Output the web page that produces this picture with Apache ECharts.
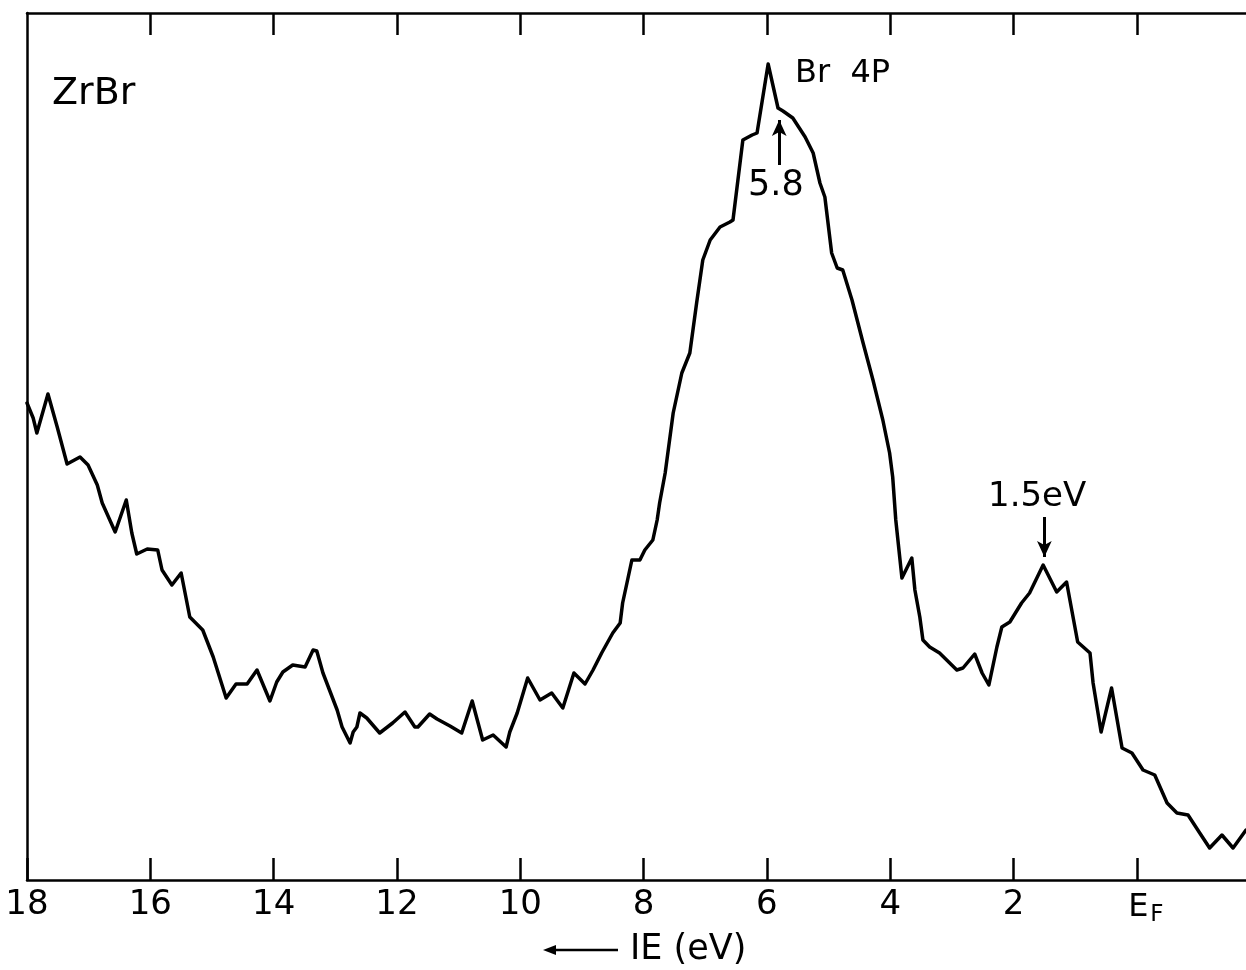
<!DOCTYPE html>
<html>
<head>
<meta charset="utf-8">
<script src="https://cdn.jsdelivr.net/npm/echarts@6/dist/echarts.min.js"></script>
<style>
  html, body { margin: 0; padding: 0; background: #fff; }
  #chart { width: 1246px; height: 970px; }
</style>
</head>
<body>
<div id="chart"></div>
<script>
// Binding energy (eV, relative to E_F)
const energies = [
  18.00, 17.90, 17.84, 17.66, 17.51, 17.35, 17.14, 17.01, 16.86, 16.78,
  16.57, 16.39, 16.30, 16.22, 16.05, 15.88, 15.81, 15.65, 15.50, 15.36,
  15.15, 14.98, 14.77, 14.61, 14.43, 14.27, 14.06, 13.95, 13.85, 13.69,
  13.49, 13.36, 13.30, 13.20, 12.97, 12.89, 12.76, 12.71, 12.65, 12.60,
  12.49, 12.28, 12.07, 11.87, 11.71, 11.66, 11.47, 11.35, 11.14, 10.95,
  10.78, 10.61, 10.44, 10.23, 10.17, 10.05, 9.88, 9.68, 9.49, 9.31,
  9.13, 8.95, 8.82, 8.68, 8.50, 8.38, 8.34, 8.27, 8.19, 8.06,
  7.98, 7.85, 7.78, 7.74, 7.65, 7.52, 7.38, 7.25, 7.14, 7.04,
  6.92, 6.76, 6.60, 6.55, 6.39, 6.24, 6.16, 5.98, 5.82, 5.74,
  5.58, 5.38, 5.25, 5.14, 5.06, 4.95, 4.86, 4.77, 4.62, 4.44,
  4.28, 4.12, 4.01, 3.96, 3.91, 3.81, 3.65, 3.60, 3.52, 3.47,
  3.36, 3.20, 2.92, 2.82, 2.63, 2.51, 2.40, 2.27, 2.19, 2.06,
  1.87, 1.74, 1.52, 1.30, 1.14, 0.96, 0.76, 0.71, 0.58, 0.41,
  0.24, 0.08, -0.10, -0.29, -0.49, -0.65, -0.83, -1.02, -1.18, -1.38,
  -1.56, -1.77
];
// Photoemission intensity (arbitrary units)
const intensity = [
  477, 462, 447, 486, 453, 416, 423, 415, 395, 377,
  348, 380, 347, 326, 331, 330, 310, 295, 307, 263,
  250, 223, 182, 196, 196, 210, 179, 198, 208, 215,
  213, 230, 229, 207, 170, 153, 137, 148, 153, 167,
  162, 147, 157, 168, 153, 153, 166, 161, 154, 147,
  179, 140, 145, 133, 148, 167, 202, 180, 187, 172,
  207, 196, 210, 227, 247, 257, 277, 297, 320, 320,
  330, 340, 360, 377, 407, 467, 507, 527, 577, 620,
  640, 653, 658, 660, 740, 745, 747, 816, 772, 769,
  762, 743, 727, 697, 683, 627, 612, 610, 580, 537,
  500, 460, 427, 403, 360, 302, 322, 290, 263, 240,
  233, 227, 210, 212, 226, 207, 195, 233, 253, 258,
  277, 287, 315, 288, 298, 238, 227, 197, 148, 192,
  132, 127, 110, 105, 77, 67, 65, 47, 32, 45,
  32, 50
];
const tickValues = [0, 2, 4, 6, 8, 10, 12, 14, 16, 18];
const topTickValues = [0, 2, 4, 6, 8, 10, 12, 14, 16];
const xRange = [-1.77, 18];
const yRange = [0, 867];
const peakArrow = { e: 5.8, from: 715, to: 760 };
const shoulderArrow = { e: 1.5, from: 363, to: 323 };

const FONT = '"DejaVu Sans", sans-serif';
const data = energies.map((e, i) => [e, intensity[i]]);

const chart = echarts.init(document.getElementById('chart'), null, { renderer: 'canvas' });

const axisLineStyle = { color: '#000', width: 2.5 };

chart.setOption({
  animation: false,
  backgroundColor: '#fff',
  grid: { left: 27, right: 0, top: 13, bottom: 90, containLabel: false },
  xAxis: [
    {
      type: 'value', position: 'bottom', inverse: true,
      min: xRange[0], max: xRange[1],
      axisLine: { show: true, onZero: false, lineStyle: axisLineStyle },
      axisTick: { show: true, inside: true, length: 22, lineStyle: { color: '#000', width: 2.5 }, customValues: tickValues },
      axisLabel: {
        show: true, customValues: tickValues, margin: 8,
        color: '#000', fontFamily: FONT, fontSize: 34,
        formatter: function (v) { return v === 0 ? '{e|E}{f|F}' : String(v); },
        rich: {
          e: { fontFamily: FONT, fontSize: 32, color: '#000', padding: [0, 0, 0, 18] },
          f: { fontFamily: FONT, fontSize: 23, color: '#000', padding: [16, 0, 0, 2] }
        }
      },
      splitLine: { show: false }
    },
    {
      type: 'value', position: 'top', inverse: true,
      min: xRange[0], max: xRange[1],
      axisLine: { show: true, onZero: false, lineStyle: axisLineStyle },
      axisTick: { show: true, inside: true, length: 22, lineStyle: { color: '#000', width: 2.5 }, customValues: topTickValues },
      axisLabel: { show: false },
      splitLine: { show: false }
    }
  ],
  yAxis: {
    type: 'value', position: 'left', min: yRange[0], max: yRange[1],
    axisLine: { show: true, onZero: false, lineStyle: axisLineStyle },
    axisTick: { show: false },
    axisLabel: { show: false },
    splitLine: { show: false }
  },
  series: [{
    type: 'line',
    data: data,
    showSymbol: false,
    symbol: 'none',
    lineStyle: { color: '#000', width: 3.5, join: 'round', cap: 'round' },
    clip: true,
    markLine: {
      silent: true,
      symbol: ['none', 'arrow'],
      symbolSize: [11, 16],
      label: { show: false },
      lineStyle: { color: '#000', width: 3, type: 'solid' },
      data: [
        [{ coord: [peakArrow.e, peakArrow.from] }, { coord: [peakArrow.e, peakArrow.to] }],
        [{ coord: [shoulderArrow.e, shoulderArrow.from] }, { coord: [shoulderArrow.e, shoulderArrow.to] }]
      ]
    }
  }],
  graphic: [
    { type: 'text', style: { text: 'ZrBr', x: 52, y: 94, font: '38px ' + FONT, fill: '#000', textVerticalAlign: 'middle' } },
    { type: 'text', style: { text: 'Br  4P', x: 795, y: 74, font: '32px ' + FONT, fill: '#000', textVerticalAlign: 'middle' } },
    { type: 'text', style: { text: '5.8', x: 748, y: 186, font: '35px ' + FONT, fill: '#000', textVerticalAlign: 'middle' } },
    { type: 'text', style: { text: '1.5eV', x: 988, y: 497, font: '34px ' + FONT, fill: '#000', textVerticalAlign: 'middle' } },
    { type: 'text', style: { text: 'IE (eV)', x: 630, y: 950, font: '35px ' + FONT, fill: '#000', textVerticalAlign: 'middle' } },
    { type: 'line', shape: { x1: 552, y1: 950, x2: 618, y2: 950 }, style: { stroke: '#000', lineWidth: 2.5 } },
    { type: 'polygon', shape: { points: [[543, 950], [556, 945], [556, 955]] }, style: { fill: '#000' } }
  ]
});
</script>
</body>
</html>
